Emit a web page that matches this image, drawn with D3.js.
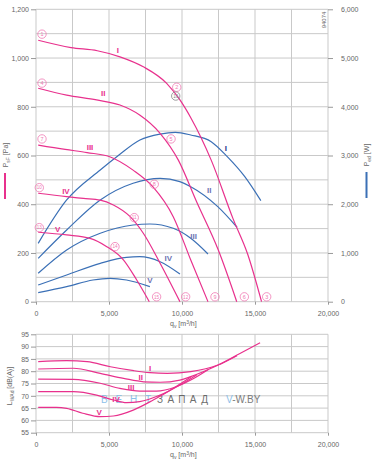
<!DOCTYPE html>
<html><head><meta charset="utf-8">
<script src="https://cdn.jsdelivr.net/npm/d3@7/dist/d3.min.js"></script>
<style>
html,body{margin:0;padding:0;background:#fff;}
svg text{font-family:"Liberation Sans",Arial,sans-serif;}
</style></head>
<body>
<svg id="c" width="382" height="462"></svg>
<script>
// ---------- DATA ----------
const xTicks = [0, 5000, 10000, 15000, 20000];
const pTicks = [0, 200, 400, 600, 800, 1000, 1200];
const wTicks = [0, 1000, 2000, 3000, 4000, 5000, 6000];
const lTicks = [55, 60, 65, 70, 75, 80, 85, 90, 95];
const curveNames = ["I", "II", "III", "IV", "V"];

// static pressure curves [Pa]
const pressQ = [
  [150, 2400, 4200, 5750, 7350, 8950, 9860, 10620, 12000, 13500, 14500, 15450],
  [150, 2100, 4150, 5750, 7100, 8500, 9750, 11000, 12500, 13750],
  [150, 2000, 3500, 5050, 6650, 8000, 9400, 10600, 11780],
  [150, 2100, 3250, 4400, 5300, 6450, 7350, 8500, 9860],
  [150, 2100, 3700, 4850, 6000, 6900, 7760]
];
const pressP = [
  [1073, 1043, 1030, 1005, 964, 896, 828, 753, 581, 340, 195, 0],
  [876, 848, 828, 807, 766, 691, 581, 410, 210, 0],
  [643, 625, 612, 595, 540, 472, 349, 171, 0],
  [445, 431, 424, 417, 397, 349, 281, 158, 0],
  [285, 274, 260, 226, 171, 89, 0]
];

// power input curves [W]
const powerQ = [
  [150, 2100, 4400, 5640, 7120, 8490, 9550, 10600, 12000, 13100, 14300, 15400],
  [150, 2100, 4400, 6650, 8500, 9850, 10600, 12450, 13770],
  [150, 2100, 4400, 6650, 7800, 9400, 10600, 11780],
  [150, 2100, 4400, 6200, 7100, 8500, 9860],
  [150, 2100, 3900, 5050, 6200, 7800]
];
const powerW = [
  [1198, 2087, 2703, 3000, 3318, 3440, 3476, 3421, 3284, 2976, 2565, 2073],
  [890, 1471, 2087, 2430, 2532, 2463, 2360, 1950, 1527],
  [583, 1061, 1404, 1574, 1594, 1506, 1301, 979],
  [343, 548, 788, 911, 923, 821, 568],
  [185, 308, 445, 480, 445, 308]
];

// sound power curves [dB(A)]
const soundQ = [
  [150, 2100, 3500, 5100, 6700, 7800, 9000, 10600, 12450, 14000, 15350],
  [150, 2550, 4400, 6000, 7370, 8500, 9860, 10600, 12450, 13770],
  [150, 2550, 4400, 5750, 7100, 8250, 9600, 10600, 11780],
  [150, 2550, 4150, 5300, 6200, 7100, 8500, 9860, 11000],
  [150, 1400, 2100, 3200, 4400, 5300, 6660, 8030, 9400, 10600]
];
const soundL = [
  [83.9, 84.3, 83.9, 81.8, 80.2, 79.4, 79.1, 79.8, 82.5, 87.3, 91.6],
  [80.9, 81.2, 79.1, 77.1, 75.7, 75.5, 76.4, 77.8, 82.4, 86.3],
  [76.8, 76.7, 75.1, 73.0, 71.9, 71.9, 73.7, 76.4, 80.6],
  [71.7, 71.7, 70.3, 68.3, 67.2, 67.6, 70.3, 74.4, 78.5],
  [65.3, 65.3, 64.9, 62.9, 61.5, 61.8, 64.2, 68.3, 73.0, 77.6]
];

// operating point markers (number, q, Pa)
const markerNum = ["1","4","7","10","13","2","5","8","11","14","15","12","9","6","3"];
const markerQ   = [411, 411, 411, 226, 226, 9640, 9250, 8100, 6730, 5410, 8260, 10250, 12260, 14270, 15800];
const markerP   = [1098, 897, 668, 468, 304, 880, 668, 482, 345, 226, 20, 20, 20, 20, 20];
const grayMarker = {num: "16", q: 9570, p: 844};

// curve label positions
const pLabelQ = [5610, 4610, 3700, 2050, 1490];
const pLabelP = [1032, 855, 636, 455, 298];
const wLabelQ = [13010, 11870, 10800, 9060, 7810];
const wLabelW = [3148, 2292, 1348, 891, 445];
const lLabelQ = [7810, 7170, 6510, 5480, 4320];
const lLabelL = [81.2, 77.8, 73.4, 68.8, 63.4];

// ---------- DRAW ----------
const svg = d3.select("#c");
const PINK = "#e8318d", BLUE = "#3b70b6", GRID = "#c9c9c9", TXT = "#666";
const x = d3.scaleLinear([0, 20000], [36, 328]);
const yP = d3.scaleLinear([0, 1200], [301.7, 9.3]);
const yW = d3.scaleLinear([0, 6000], [301.7, 9.3]);
const yL = d3.scaleLinear([55, 95], [432.7, 334.3]);

function grid(g, ys, yTicksArr, xs) {
  g.selectAll("line.h").data(yTicksArr).join("line")
    .attr("x1", x(0)).attr("x2", x(20000))
    .attr("y1", d => ys(d)).attr("y2", d => ys(d))
    .attr("stroke", GRID).attr("stroke-width", 1);
  g.selectAll("line.v").data(xs).join("line").attr("class","v")
    .attr("x1", d => x(d)).attr("x2", d => x(d))
    .attr("y1", ys.range()[0]).attr("y2", ys.range()[1])
    .attr("stroke", GRID).attr("stroke-width", 1);
}
const xGrid = d3.range(0, 20001, 2500);
grid(svg.append("g"), yP, d3.range(0, 1201, 100), xGrid);
grid(svg.append("g"), yL, lTicks, xGrid);

function styleAxis(g) {
  g.select(".domain").remove();
  g.selectAll(".tick line").attr("stroke", "#999");
  g.selectAll(".tick text").attr("fill", TXT).attr("font-size", 7)
    .attr("font-family", '"Liberation Sans",Arial,sans-serif');
}
const fmt = d3.format(",");
svg.append("g").attr("transform", `translate(${x(0)},0)`)
  .call(d3.axisLeft(yP).tickValues(pTicks).tickSize(5).tickPadding(2).tickFormat(fmt)).call(styleAxis);
svg.append("g").attr("transform", `translate(${x(20000)},0)`)
  .call(d3.axisRight(yW).tickValues(wTicks).tickSize(5).tickPadding(8).tickFormat(fmt)).call(styleAxis);
svg.append("g").attr("transform", `translate(0,${yP(0)})`)
  .call(d3.axisBottom(x).tickValues(xTicks).tickSize(3).tickPadding(6).tickFormat(fmt)).call(styleAxis);
svg.append("g").attr("transform", `translate(${x(0)},0)`)
  .call(d3.axisLeft(yL).tickValues(lTicks).tickSize(5).tickPadding(2).tickFormat(fmt)).call(styleAxis);
svg.append("g").attr("transform", `translate(0,${yL(55)})`)
  .call(d3.axisBottom(x).tickValues(xTicks).tickSize(3).tickPadding(6).tickFormat(fmt)).call(styleAxis);

// watermark (behind curves)
const wm = svg.append("g").attr("font-size", 10).attr("opacity", 0.85);
wm.append("text").attr("x", 101).attr("y", 403).attr("fill", "#7ab6e6")
  .attr("textLength", 50).attr("lengthAdjust", "spacing").text("ВЕНТ");
wm.append("text").attr("x", 157).attr("y", 403).attr("fill", "#555")
  .attr("textLength", 51).attr("lengthAdjust", "spacing").text("ЗАПАД");
const w2 = wm.append("text").attr("x", 226).attr("y", 403);
w2.append("tspan").attr("fill", "#7ab6e6").text("V");
w2.append("tspan").attr("fill", "#666").text("-W.BY");

// curves
const line = (ys) => d3.line().x(d => x(d[0])).y(d => ys(d[1])).curve(d3.curveMonotoneX);
const zipc = (qs, vs) => qs.map((q, i) => [q, vs[i]]);
const cg = svg.append("g").attr("fill", "none").attr("stroke-width", 1.2);
powerQ.forEach((qs, k) => cg.append("path").attr("d", line(yW)(zipc(qs, powerW[k]))).attr("stroke", BLUE));
pressQ.forEach((qs, k) => cg.append("path").attr("d", line(yP)(zipc(qs, pressP[k]))).attr("stroke", PINK));
soundQ.forEach((qs, k) => cg.append("path").attr("d", line(yL)(zipc(qs, soundL[k]))).attr("stroke", PINK));

// markers
const mg = svg.append("g");
function marker(num, q, p, col) {
  const cx = x(q), cy = yP(p);
  mg.append("circle").attr("cx", cx).attr("cy", cy).attr("r", 4.2)
    .attr("fill", "none").attr("stroke", col).attr("stroke-width", 0.8);
  mg.append("text").attr("x", cx).attr("y", cy + 1.8).attr("text-anchor", "middle")
    .attr("font-size", num.length > 1 ? 4.6 : 5.5).attr("fill", col).text(num);
}
markerNum.forEach((n, i) => marker(n, markerQ[i], markerP[i], "#f07ab4"));
marker(grayMarker.num, grayMarker.q, grayMarker.p, "#888");

// curve labels
const lg = svg.append("g").attr("font-weight", "bold").attr("font-size", 8).attr("text-anchor", "middle");
curveNames.forEach((n, i) => {
  lg.append("text").attr("x", x(pLabelQ[i])).attr("y", yP(pLabelP[i]) + 3).attr("fill", PINK).text(n);
  lg.append("text").attr("x", x(wLabelQ[i])).attr("y", yW(wLabelW[i]) + 3)
    .attr("fill", i === 0 ? "#23378c" : "#6e74b3").text(n);
  lg.append("text").attr("x", x(lLabelQ[i])).attr("y", yL(lLabelL[i]) + 3).attr("fill", PINK).text(n);
});

// axis titles
function rotLabel(xx, yy, main, sub, rest) {
  const t = svg.append("text").attr("transform", `translate(${xx},${yy}) rotate(-90)`)
    .attr("text-anchor", "middle").attr("font-size", 7).attr("fill", TXT);
  t.append("tspan").text(main);
  t.append("tspan").attr("font-size", 5).attr("dy", 2).text(sub);
  t.append("tspan").attr("dy", -2).text(rest);
}
rotLabel(8, 155, "P", "sF", " [Pa]");
svg.append("rect").attr("x", 4).attr("y", 173).attr("width", 2).attr("height", 26).attr("fill", PINK);
rotLabel(369, 155, "P", "ed", " [W]");
svg.append("rect").attr("x", 365.5).attr("y", 172).attr("width", 2).attr("height", 26).attr("fill", BLUE);
rotLabel(12, 386, "L", "WAd", " [dB(A)]");

function qLabel(yy) {
  const t = svg.append("text").attr("x", 170).attr("y", yy).attr("font-size", 7).attr("fill", TXT);
  t.append("tspan").text("q");
  t.append("tspan").attr("font-size", 5).attr("dy", 2).text("v");
  t.append("tspan").attr("dy", -2).text(" [m");
  t.append("tspan").attr("font-size", 5).attr("dy", -2.5).text("3");
  t.append("tspan").attr("dy", 2.5).text("/h]");
}
qLabel(326);
qLabel(457);

svg.append("text").attr("transform", "translate(326,20) rotate(-90)").attr("text-anchor", "middle")
  .attr("font-size", 6).attr("fill", TXT).text("94074");
</script>
</body></html>
